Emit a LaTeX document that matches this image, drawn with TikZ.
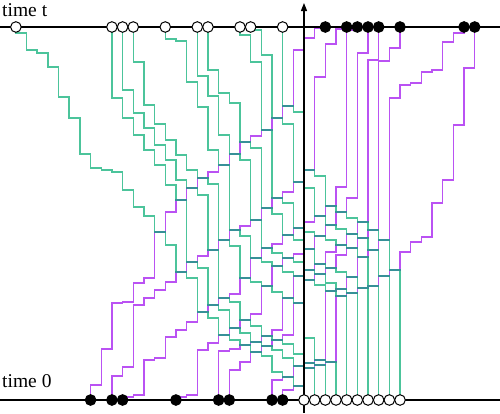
\documentclass[tikz,border=0pt]{standalone}
\usepackage{fontspec}
\setmainfont{Liberation Serif}
\usetikzlibrary{arrows.meta}
\definecolor{holegreen}{RGB}{0,171,112}
\definecolor{partpurple}{RGB}{186,82,243}
% hole path: start site, end site, jump heights (from the bottom up)
\newcommand{\hpath}[3]{%
  \draw[holeline] (#1,400) \foreach \yy [count=\i] in {#3}{ -- ({#1-\i+1},\yy) -- ({#1-\i},\yy)} -- (#2,27);}
% particle path: start site, end site, jump heights
\newcommand{\ppath}[3]{%
  \draw[partline] (#1,400) \foreach \yy [count=\i] in {#3}{ -- ({#1+\i-1},\yy) -- ({#1+\i},\yy)} -- (#2,27);}

\begin{document}
\begin{tikzpicture}[x=10.67pt,y=-1pt,
  holeline/.style={holegreen,line width=1.5pt,draw opacity=0.7},
  partline/.style={partpurple,line width=1.5pt},
  timeline/.style={line width=1.2pt},
  site/.style={circle,draw=black,line width=1pt,minimum size=10.6pt,inner sep=0pt},
  emptysite/.style={site,fill=white},
  fullsite/.style={site,fill=black},
  lbl/.style={anchor=base west,inner sep=0pt,font=\fontsize{19.5}{20}\selectfont}]
  \useasboundingbox (-28.49,0) rectangle (18.37,413);
  \coordinate (tl) at (-28.49,27);
  \coordinate (tr) at (18.37,27);
  \coordinate (bl) at (-28.49,400);
  \coordinate (br) at (18.37,400);
  \coordinate (ax0) at (0,413);
  \coordinate (ax1) at (0,3);

  % particles
  \ppath{-20}{2}{385,349,303,302,283,278,232,212,200,188,178,172,165,154,142,136,130,118,106,50,38,28}
  \ppath{-18}{4}{376,367,305,298,290,282,272,262,256,250,240,230,226,220,208,198,192,182,170,77,44,29}
  \ppath{-17}{5}{397,395,360,358,337,330,322,312,305,298,294,278,258,248,244,235,228,222,216,206,187,30}
  \ppath{-12}{6}{397,395,350,343,335,328,320,314,286,266,258,254,249,236,225,212,198,53}
  \ppath{-8}{7}{351,349,345,342,336,330,298,276,270,264,252,245,234,222,60}
  \ppath{-7}{9}{370,362,352,346,340,335,303,280,274,268,255,248,238,230,61,48}
  \ppath{-3}{15}{380,377,366,363,360,291,289,277,257,250,240,98,85,83,72,70,42,33}
  \ppath{-2}{16}{390,386,368,365,362,296,293,288,286,276,270,252,242,237,203,180,125,68}
  % holes
  \hpath{0}{-27}{386,377,372,356,352,345,340,335,318,312,278,272,245,232,216,207,190,172,170,168,154,118,97,67,53,50,33}
  \hpath{1}{-18}{368,366,358,350,346,342,333,328,310,305,268,262,200,185,165,150,135,118,98}
  \hpath{2}{-17}{365,363,354,344,340,336,326,320,302,298,250,195,188,180,160,145,128,113,90}
  \hpath{3}{-16}{362,360,338,303,298,292,286,282,278,246,240,184,178,170,155,140,124,105,62}
  \hpath{4}{-13}{296,291,285,280,276,272,266,262,258,236,230,165,150,107,82,41,39}
  \hpath{5}{-10}{293,289,283,274,270,262,258,253,248,220,160,154,135,96,76}
  \hpath{6}{-9}{288,277,272,268,264,249,240,235,214,208,148,142,103,93,70}
  \hpath{7}{-6}{286,257,248,245,240,236,232,228,203,198,130,62,35}
  \hpath{8}{-5}{276,250,238,234,229,225,216,188,182,124,118,55,30}
  \hpath{9}{-2}{270,240,230,222,218,212,206,176,170,112,106}

  \draw[timeline] (tl) -- (tr);
  \draw[timeline] (bl) -- (br);
  \draw[timeline,-{Triangle[length=8pt,width=6pt]}] (ax0) -- (ax1);

  \foreach \k [count=\n] in {-27,-18,-17,-16,-13,-10,-9,-6,-5,-2}
    \node[emptysite] (to\n) at (\k,27) {};
  \foreach \k [count=\n] in {2,4,5,6,7,9,15,16}
    \node[fullsite] (tf\n) at (\k,27) {};
  \foreach \k [count=\n] in {-20,-18,-17,-12,-8,-7,-3,-2}
    \node[fullsite] (bf\n) at (\k,400) {};
  \foreach \k [count=\n] in {0,...,9}
    \node[emptysite] (bo\n) at (\k,400) {};

  \node[lbl] (timet) at (-28.3,16) {time t};
  \node[lbl] (time0) at (-28.3,387) {time 0};
\end{tikzpicture}
\end{document}
